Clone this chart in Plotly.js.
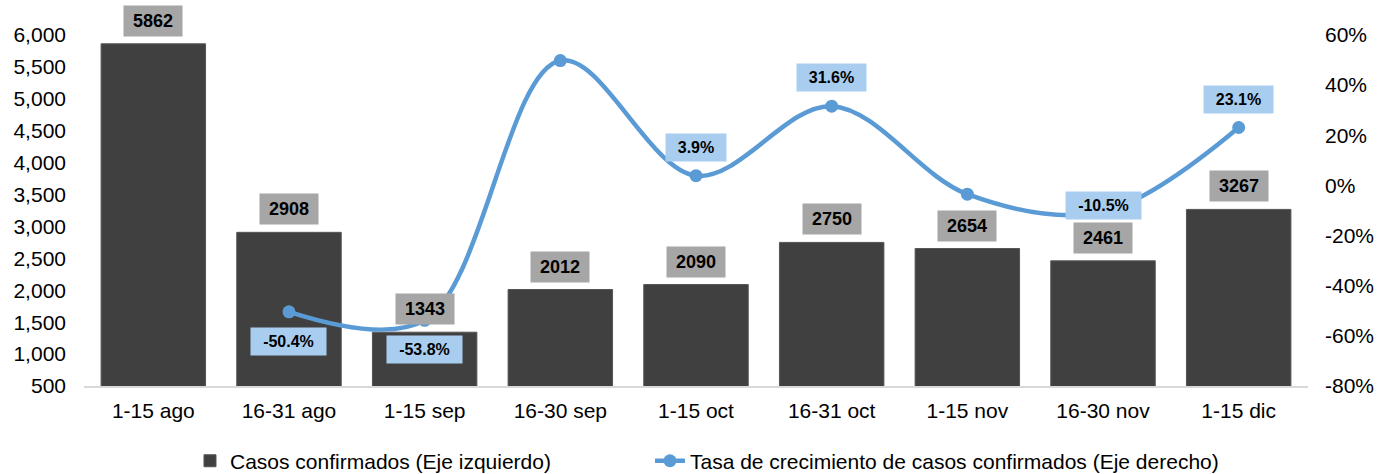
<!DOCTYPE html>
<html>
<head>
<meta charset="utf-8">
<script src="https://cdn.plot.ly/plotly-3.0.1.min.js"></script>
<style>html,body{margin:0;padding:0;background:#fff;}#chart{width:1390px;height:474px;}</style>
</head>
<body>
<div id="chart"></div>
<script>
// ---- data ----
const categories = ['1-15 ago','16-31 ago','1-15 sep','16-30 sep','1-15 oct','16-31 oct','1-15 nov','16-30 nov','1-15 dic'];
const casos = [5862, 2908, 1343, 2012, 2090, 2750, 2654, 2461, 3267];
const tasa = [null, -50.4, -53.8, 49.8, 3.9, 31.6, -3.5, -10.5, 23.1];
const tasaLabels = [null, '-50.4%', '-53.8%', null, '3.9%', '31.6%', null, '-10.5%', '23.1%'];
const rightTicks = [-80, -60, -40, -20, 0, 20, 40, 60];
// label placement (style only)
const tasaLabelPos = [null, 'below', 'below', null, 'above', 'above', null, 'center', 'above'];

const FONT = '"Liberation Sans", Arial, sans-serif';
const BAR = '#404040';
const LINE = '#5b9bd5';

const cv = document.createElement('canvas').getContext('2d');
function textW(t, f) { cv.font = f; return cv.measureText(t).width; }

const annotations = [];
categories.forEach((c, i) => {
  annotations.push({
    x: c, y: casos[i], xref: 'x', yref: 'y',
    text: '<b>' + casos[i] + '</b>', showarrow: false,
    yanchor: 'bottom', yshift: 7,
    bgcolor: '#a6a6a6', borderpad: 4, width: 50, height: 22,
    font: {family: FONT, size: 18, color: '#000'}
  });
  if (tasaLabels[i] !== null && tasaLabelPos[i]) {
    const pos = tasaLabelPos[i];
    const w = Math.round(textW(tasaLabels[i], 'bold 16px "Liberation Sans"')) + 16;
    annotations.push({
      x: c, y: tasa[i], xref: 'x', yref: 'y2',
      text: '<b>' + tasaLabels[i] + '</b>', showarrow: false,
      yanchor: pos === 'below' ? 'top' : (pos === 'above' ? 'bottom' : 'middle'),
      yshift: pos === 'below' ? -15 : (pos === 'above' ? 14 : 6),
      bgcolor: '#a9cdef', borderpad: 4, width: w, height: 19,
      font: {family: FONT, size: 16, color: '#000'}
    });
  }
});

const traces = [
  {
    type: 'bar', x: categories, y: casos, name: 'Casos confirmados (Eje izquierdo)',
    marker: {color: BAR, line: {color: '#555', width: 1}}, width: 0.77,
    hoverinfo: 'x+y', legend: 'legend'
  },
  {
    type: 'scatter', mode: 'lines+markers', x: categories, y: tasa, yaxis: 'y2',
    name: 'Tasa de crecimiento de casos confirmados (Eje derecho)',
    line: {color: LINE, width: 4.5, shape: 'spline', smoothing: 1},
    marker: {color: LINE, size: 13}, legend: 'legend2'
  }
];

const legendBase = {orientation: 'h', xanchor: 'left', y: -0.214, yanchor: 'middle',
                    font: {family: FONT, size: 21, color: '#000'}, itemwidth: 30,
                    bgcolor: 'rgba(0,0,0,0)'};

const layout = {
  width: 1390, height: 474,
  margin: {l: 84, r: 82, t: 35, b: 88, autoexpand: false},
  paper_bgcolor: '#fff', plot_bgcolor: '#fff',
  font: {family: FONT, size: 20, color: '#000'},
  showlegend: true,
  legend: Object.assign({}, legendBase, {x: 0.0866}),
  legend2: Object.assign({}, legendBase, {x: 0.4624}),
  xaxis: {
    type: 'category', showgrid: false, zeroline: false,
    showline: true, linecolor: '#d9d9d9', linewidth: 1.5,
    ticks: '', ticklabelstandoff: 5, tickfont: {family: FONT, size: 21, color: '#000'}
  },
  yaxis: {
    range: [500, 6000], dtick: 500, tick0: 500, tickformat: ',d',
    showgrid: false, zeroline: false, showline: false, ticks: '',
    ticklabelstandoff: 17,
    tickfont: {family: FONT, size: 21, color: '#000'}
  },
  yaxis2: {
    overlaying: 'y', side: 'right', range: [-80, 60],
    tickmode: 'array', tickvals: rightTicks, ticktext: rightTicks.map(v => String(v) + '%'),
    showgrid: false, zeroline: false, showline: false, ticks: '',
    ticklabelstandoff: 16,
    tickfont: {family: FONT, size: 21, color: '#000'}
  },
  annotations: annotations
};

Plotly.newPlot('chart', traces, layout, {displayModeBar: false, staticPlot: true});
</script>
</body>
</html>
